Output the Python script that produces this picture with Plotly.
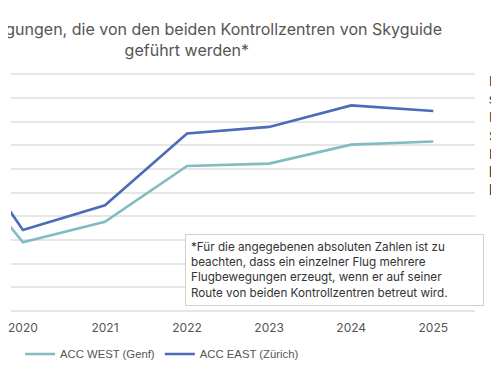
import plotly.graph_objects as go

years = [2019, 2020, 2021, 2022, 2023, 2024, 2025]
acc_west = [724000, 290000, 377000, 613000, 623000, 703000, 716000]
acc_east = [851000, 342000, 447000, 750000, 778000, 869000, 845000]
series_names = ["ACC WEST (Genf)", "ACC EAST (Zürich)"]
tick_years = [2020, 2021, 2022, 2023, 2024, 2025]
grid_values = [i * 100000 for i in range(11)]

title_text = "Flugbewegungen, die von den beiden Kontrollzentren von Skyguide<br>geführt werden*"
note_text = ("*Für die angegebenen absoluten Zahlen ist zu<br>"
             "beachten, dass ein einzelner Flug mehrere<br>"
             "Flugbewegungen erzeugt, wenn er auf seiner<br>"
             "Route von beiden Kontrollzentren betreut wird.")
side_text = ("Das Verkehrsaufkommen hat<br>sich in beiden<br>Kontrollzentren von<br>"
             "Skyguide erholt. Die<br>Flugbewegungen dürften<br>bis 2025 weiter zunehmen,<br>hat Skyguide mitgeteilt.")

# page body adds an 8px margin, so the figure is 491x368 and offset by 8px
W, H = 491, 368
PL, PR, PT, PB = 0, 467, 63.6, 303   # plot area in figure pixels
PW, PH = PR - PL, PB - PT

fig = go.Figure()
fig.add_trace(go.Scatter(x=years, y=acc_west, mode="lines", name=series_names[0],
                         line=dict(color="#82bcc0", width=2.6)))
fig.add_trace(go.Scatter(x=years, y=acc_east, mode="lines", name=series_names[1],
                         line=dict(color="#4b6cb7", width=2.6)))

fig.update_layout(
    width=W, height=H,
    margin=dict(l=PL, r=W - PR, t=PT, b=H - PB),
    paper_bgcolor="white", plot_bgcolor="white",
    title=dict(text=title_text, x=177/PW, xref="paper", xanchor="center",
               y=1 - 27/H, yref="container", yanchor="top",
               font=dict(family="Inter", size=16, color="#555555")),
    xaxis=dict(range=[2019.855, 2025.508], tickvals=tick_years,
               ticktext=[str(y) for y in tick_years],
               ticklabeloverflow="allow",
               showgrid=False, zeroline=False, showline=False,
               ticks="outside", ticklen=6, tickcolor="rgba(0,0,0,0)",
               tickfont=dict(family="Inter", size=12, color="#555555")),
    yaxis=dict(range=[0, 1010000], tickvals=grid_values,
               showticklabels=False,
               showgrid=True, gridcolor="#e6e6e6", gridwidth=1.5,
               zeroline=True, zerolinecolor="#e6e6e6", zerolinewidth=1.5),
    showlegend=True,
    legend=dict(orientation="h", x=152/PW, xanchor="center",
                y=1 - 346/H, yref="container", yanchor="middle",
                font=dict(family="Liberation Sans", size=11.3, color="#555555"),
                itemwidth=30, tracegroupgap=0),
)

fig.add_annotation(text=note_text, xref="paper", yref="paper",
                   x=175/PW, y=(PB - 226)/PH, xanchor="left", yanchor="top",
                   align="left", showarrow=False, width=287, borderpad=5,
                   bordercolor="#d0d0d0", borderwidth=1, bgcolor="white",
                   font=dict(family="Inter", size=11.7, color="#333333"))
fig.add_annotation(text=side_text, xref="paper", yref="paper",
                   x=479/PW, y=(PB - 63)/PH, xanchor="left", yanchor="top",
                   align="left", showarrow=False,
                   font=dict(family="Liberation Sans", size=14, color="#333333"))

fig.write_html("out.html")
